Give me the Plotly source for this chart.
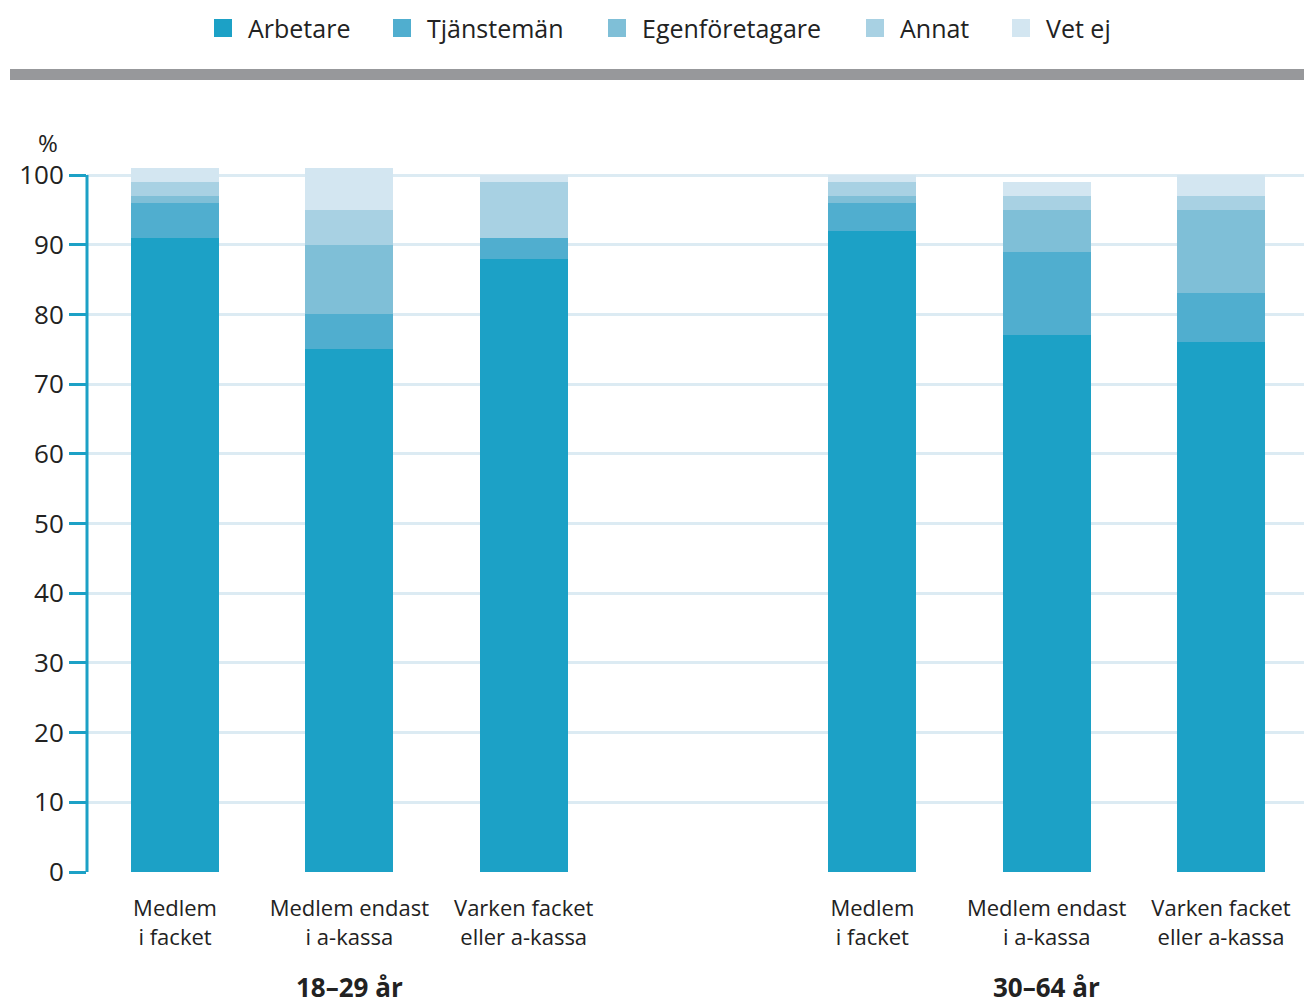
import plotly.graph_objects as go

# categories (two age groups, three membership types each)
categories = ["Medlem<br>i facket", "Medlem endast<br>i a-kassa", "Varken facket<br>eller a-kassa",
              "Medlem<br>i facket", "Medlem endast<br>i a-kassa", "Varken facket<br>eller a-kassa"]
positions = [0, 1, 2, 4, 5, 6]
groups = ["18–29 år", "30–64 år"]
group_pos = [1, 5]

# shares in percent
arbetare = [91, 75, 88, 92, 77, 76]
tjanstemen = [5, 5, 3, 4, 12, 7]
egenforetagare = [1, 10, 0, 1, 6, 12]
annat = [2, 5, 8, 2, 2, 2]
vet_ej = [2, 6, 1, 1, 2, 3]

series = [
    ("Arbetare", arbetare, "#1ca1c6"),
    ("Tjänstemän", tjanstemen, "#50aecf"),
    ("Egenföretagare", egenforetagare, "#7fbfd7"),
    ("Annat", annat, "#a8d1e3"),
    ("Vet ej", vet_ej, "#d3e6f1"),
]

FONT = "Open Sans"
TEXT = "#222222"
TEAL = "#1ca1c6"

# pixel helpers for the 1304x1004 page
W, H = 1304, 1004
ML, MR, MT, MB = 87, 0, 155, 132
PW, PH = W - ML - MR, H - MT - MB


def px(x):
    return (x - ML) / PW


def py(y):
    return (H - MB - y) / PH


fig = go.Figure()
for name, vals, color in series:
    fig.add_trace(go.Bar(
        x=positions, y=vals, name=name,
        marker=dict(color=color, line=dict(width=0)),
        width=0.505, showlegend=False,
    ))

fig.update_layout(
    width=W, height=H,
    barmode="stack",
    plot_bgcolor="white", paper_bgcolor="white",
    margin=dict(l=ML, r=MR, t=MT, b=MB),
    font=dict(family=FONT, color=TEXT),
    xaxis=dict(
        range=[-0.505, 6.476],
        tickvals=positions, ticktext=categories,
        tickfont=dict(size=22, color=TEXT),
        showgrid=False, zeroline=False, showline=False,
        ticks="", ticklabelstandoff=21,
    ),
    yaxis=dict(
        range=[0, 102.87],
        tickvals=list(range(0, 101, 10)),
        tickfont=dict(size=26, color=TEXT),
        showgrid=True, gridcolor="#dcebf3", gridwidth=3,
        zeroline=False, showline=False,
        ticks="outside", ticklen=17, tickwidth=3, tickcolor=TEAL,
    ),
)

# axis line from 0 to 100 only
fig.add_shape(type="line", xref="paper", yref="y", x0=0, x1=0, y0=0, y1=100,
              line=dict(color=TEAL, width=3), layer="above")

# grey band under the legend
fig.add_shape(type="rect", xref="paper", yref="paper",
              x0=px(10), x1=px(1304), y0=py(80), y1=py(69),
              fillcolor="#97989b", line=dict(width=0))

# legend drawn by hand to get the larger squares
legend_x = [214, 393, 608, 866, 1012]
for (name, vals, color), lx in zip(series, legend_x):
    fig.add_shape(type="rect", xref="paper", yref="paper",
                  x0=px(lx), x1=px(lx + 18), y0=py(37), y1=py(19),
                  fillcolor=color, line=dict(width=0))
    fig.add_annotation(text=name, xref="paper", yref="paper",
                       x=px(lx + 32), y=py(28), xanchor="left", yanchor="middle",
                       showarrow=False, font=dict(size=25, color=TEXT))

# percent sign above the axis
fig.add_annotation(text="%", xref="paper", yref="paper", x=px(48), y=py(143),
                   xanchor="center", yanchor="middle", borderpad=0,
                   showarrow=False, font=dict(size=24, color=TEXT))

# group labels
for g, gp in zip(groups, group_pos):
    fig.add_annotation(text="<b>" + g + "</b>", xref="x", yref="paper",
                       x=gp, y=py(987), yanchor="middle", showarrow=False,
                       font=dict(size=26, color=TEXT))

# drop the default body margin so the figure fills the window
fig.write_html("out.html", config={"displayModeBar": False},
               post_script="document.body.style.margin='0';")
